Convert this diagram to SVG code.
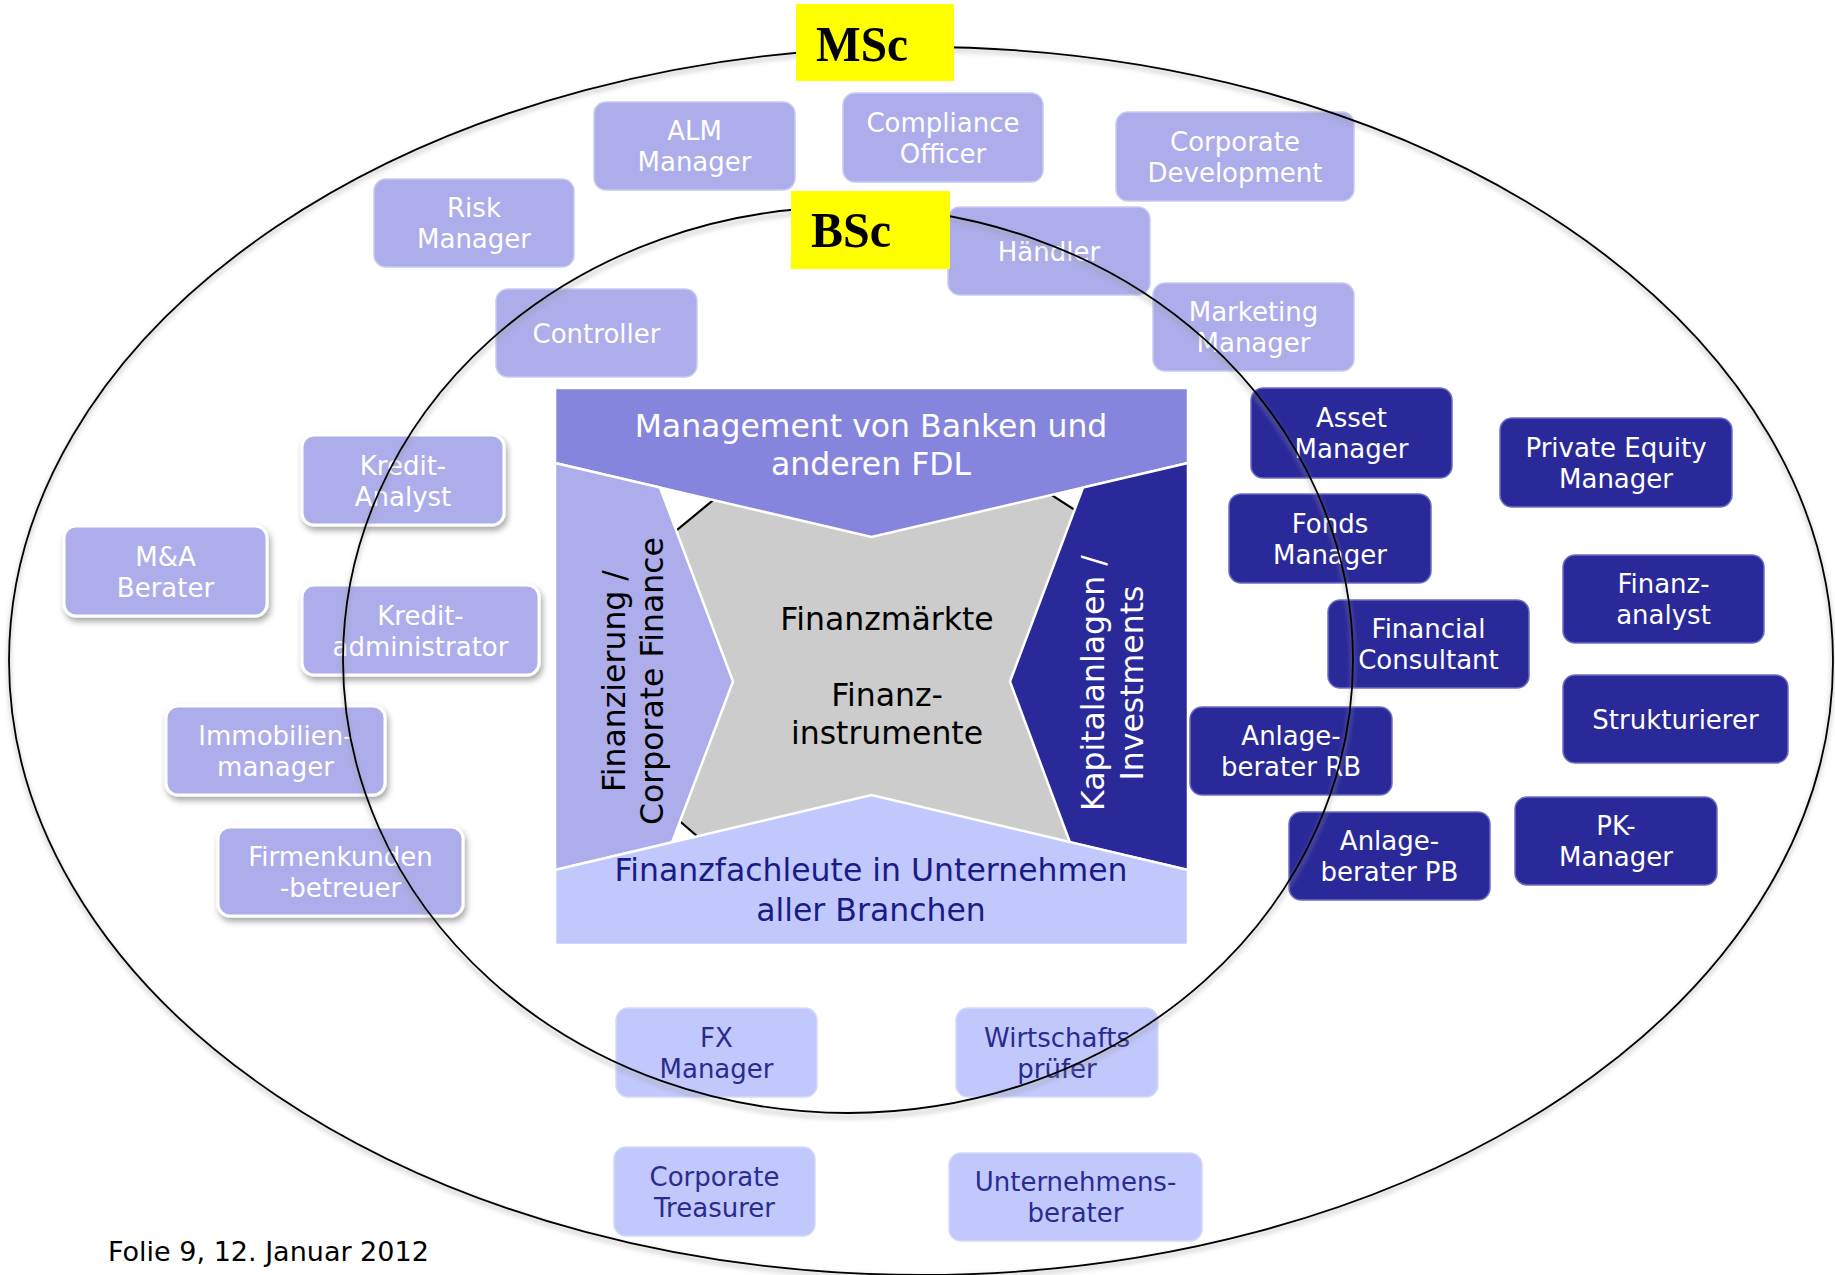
<svg xmlns="http://www.w3.org/2000/svg" width="1835" height="1275" viewBox="0 0 1835 1275">
<defs>
<filter id="sh" x="-20%" y="-20%" width="140%" height="150%">
<feDropShadow dx="2" dy="4" stdDeviation="3" flood-color="#000" flood-opacity="0.35"/>
</filter>
<filter id="blur" x="-5%" y="-5%" width="110%" height="110%">
<feGaussianBlur stdDeviation="2.5"/>
</filter>
<style>
.n rect{rx:12;ry:12}
.lt rect{fill:#ADADEB;stroke:#C9C9F2;stroke-width:1.5}
.lb rect{fill:#ADADEB;stroke:#FFFFFF;stroke-width:3;filter:url(#sh)}
.dk rect{fill:#29299A;stroke:#6E6EC4;stroke-width:1.5}
.bt rect{fill:#C1C8FB;stroke:#D4D9FC;stroke-width:1.5}
text{font-family:"DejaVu Sans",Verdana,sans-serif;font-size:26px;text-anchor:middle}
.lt text,.lb text,.dk text{fill:#FFFFFF}
.bt text{fill:#2B2B8F}
.pn{stroke:#FFFFFF;stroke-width:2.5;stroke-linejoin:miter}
text.big{font-size:31.5px}
.ring{fill:none;stroke:#000;stroke-width:1.8}
.ringsh{fill:none;stroke:#9a9a9a;stroke-width:3;opacity:0.55;filter:url(#blur)}
.tag{fill:#FFFF00}
text.tagt{font-family:"Liberation Serif","Times New Roman",serif;font-weight:bold;font-size:50px;fill:#000;text-anchor:start}
text.foot{font-size:27px;fill:#000;text-anchor:start}
</style>
</defs>
<rect x="0" y="0" width="1835" height="1275" fill="#FFFFFF"/>

<!-- central square -->
<g id="center">
<polygon points="740,478 1030,481 1095,523 1110,880 720,856 660,804 660,544" fill="#CCCCCC" stroke="#000" stroke-width="2.2"/>
<polygon class="pn" id="top-band" points="555,388 1188,388 1188,463 871.5,537 555,463" fill="#8585DD"/>
<polygon class="pn" id="left-band" points="555,463 660,487.5 733,681.5 672,842.5 555,870" fill="#ADADEB"/>
<polygon class="pn" id="right-band" points="1188,463 1083,487.5 1010,681.5 1070,842.5 1188,870" fill="#29299A"/>
<polygon class="pn" id="bottom-band" points="555,870 871.5,795 1188,870 1188,945 555,945" fill="#C1C8FB"/>
<text class="big" x="871" y="437" fill="#FFFFFF">Management von Banken und</text>
<text class="big" x="871" y="475" fill="#FFFFFF">anderen FDL</text>
<text class="big" x="625" y="681" fill="#000" transform="rotate(-90 625 681)">Finanzierung /</text>
<text class="big" x="663" y="681" fill="#000" transform="rotate(-90 663 681)">Corporate Finance</text>
<text class="big" x="1104" y="683" fill="#FFFFFF" transform="rotate(-90 1104 683)">Kapitalanlagen /</text>
<text class="big" x="1143" y="683" fill="#FFFFFF" transform="rotate(-90 1143 683)">Investments</text>
<text class="big" x="887" y="630" fill="#000">Finanzmärkte</text>
<text class="big" x="887" y="706" fill="#000">Finanz-</text>
<text class="big" x="887" y="744" fill="#000">instrumente</text>
<text class="big" x="871" y="881" fill="#1B1B87">Finanzfachleute in Unternehmen</text>
<text class="big" x="871" y="921" fill="#1B1B87">aller Branchen</text>
</g>

<!-- light nodes, top -->
<g id="alm" class="n lt"><rect x="594" y="102" width="201" height="88"/><text x="694.5" y="140">ALM</text><text x="694.5" y="171">Manager</text></g>
<g id="compliance" class="n lt"><rect x="843" y="93" width="200" height="89"/><text x="943" y="131.5">Compliance</text><text x="943" y="162.5">Officer</text></g>
<g id="corpdev" class="n lt"><rect x="1116" y="112" width="238" height="89"/><text x="1235" y="150.5">Corporate</text><text x="1235" y="181.5">Development</text></g>
<g id="risk" class="n lt"><rect x="374" y="179" width="200" height="88"/><text x="474" y="217">Risk</text><text x="474" y="248">Manager</text></g>
<g id="controller" class="n lt"><rect x="496" y="289" width="201" height="88"/><text x="596.5" y="342.5">Controller</text></g>
<g id="haendler" class="n lt"><rect x="948" y="207" width="202" height="88"/><text x="1049" y="260.5">Händler</text></g>
<g id="marketing" class="n lt"><rect x="1153" y="283" width="201" height="88"/><text x="1253.5" y="321">Marketing</text><text x="1253.5" y="352">Manager</text></g>

<!-- light nodes, left -->
<g id="kreditanalyst" class="n lb"><rect x="302" y="435" width="202" height="90"/><text x="403" y="474.5">Kredit-</text><text x="403" y="505.5">Analyst</text></g>
<g id="ma" class="n lb"><rect x="64" y="526" width="203" height="90"/><text x="165.5" y="565.5">M&amp;A</text><text x="165.5" y="596.5">Berater</text></g>
<g id="kreditadmin" class="n lb"><rect x="302" y="585" width="237" height="90"/><text x="420.5" y="624.5">Kredit-</text><text x="420.5" y="655.5">administrator</text></g>
<g id="immobilien" class="n lb"><rect x="166" y="706" width="219" height="89"/><text x="275.5" y="745">Immobilien-</text><text x="275.5" y="776">manager</text></g>
<g id="firmenkunden" class="n lb"><rect x="218" y="827" width="245" height="89"/><text x="340.5" y="866">Firmenkunden</text><text x="340.5" y="897">-betreuer</text></g>

<!-- dark nodes -->
<g id="asset" class="n dk"><rect x="1251" y="388" width="201" height="90"/><text x="1351.5" y="427">Asset</text><text x="1351.5" y="458">Manager</text></g>
<g id="privateequity" class="n dk"><rect x="1500" y="418" width="232" height="89"/><text x="1616" y="456.5">Private Equity</text><text x="1616" y="487.5">Manager</text></g>
<g id="fonds" class="n dk"><rect x="1229" y="494" width="202" height="89"/><text x="1330" y="532.5">Fonds</text><text x="1330" y="563.5">Manager</text></g>
<g id="finanzanalyst" class="n dk"><rect x="1563" y="555" width="201" height="88"/><text x="1663.5" y="593">Finanz-</text><text x="1663.5" y="624">analyst</text></g>
<g id="financialconsultant" class="n dk"><rect x="1328" y="600" width="201" height="88"/><text x="1428.5" y="638">Financial</text><text x="1428.5" y="669">Consultant</text></g>
<g id="strukturierer" class="n dk"><rect x="1563" y="675" width="225" height="88"/><text x="1675.5" y="728.5">Strukturierer</text></g>
<g id="anlagerb" class="n dk"><rect x="1190" y="707" width="202" height="88"/><text x="1291" y="745">Anlage-</text><text x="1291" y="776">berater RB</text></g>
<g id="pkmanager" class="n dk"><rect x="1515" y="797" width="202" height="88"/><text x="1616" y="835">PK-</text><text x="1616" y="866">Manager</text></g>
<g id="anlagepb" class="n dk"><rect x="1289" y="812" width="201" height="88"/><text x="1389.5" y="850">Anlage-</text><text x="1389.5" y="881">berater PB</text></g>

<!-- bottom nodes -->
<g id="fx" class="n bt"><rect x="616" y="1008" width="201" height="89"/><text x="716.5" y="1046.5">FX</text><text x="716.5" y="1077.5">Manager</text></g>
<g id="wp" class="n bt"><rect x="956" y="1008" width="202" height="89"/><text x="1057" y="1046.5">Wirtschafts</text><text x="1057" y="1077.5">prüfer</text></g>
<g id="treasurer" class="n bt"><rect x="614" y="1147" width="201" height="89"/><text x="714.5" y="1185.5">Corporate</text><text x="714.5" y="1216.5">Treasurer</text></g>
<g id="unternehmensberater" class="n bt"><rect x="949" y="1153" width="253" height="88"/><text x="1075.5" y="1191">Unternehmens-</text><text x="1075.5" y="1222">berater</text></g>

<!-- rings -->
<g id="rings">
<ellipse class="ringsh" cx="921" cy="664" rx="912" ry="614"/>
<ellipse class="ringsh" cx="848" cy="664" rx="505" ry="453"/>
<ellipse class="ring" cx="921" cy="661" rx="912" ry="614"/>
<ellipse class="ring" cx="848" cy="660" rx="505" ry="453"/>
</g>

<!-- level tags -->
<g id="msc"><rect class="tag" x="796" y="4" width="158" height="77"/><text class="tagt" x="816" y="61" textLength="92" lengthAdjust="spacingAndGlyphs">MSc</text></g>
<g id="bsc"><rect class="tag" x="791" y="191" width="159" height="78"/><text class="tagt" x="811" y="247" textLength="80" lengthAdjust="spacingAndGlyphs">BSc</text></g>

<text class="foot" x="108" y="1261">Folie 9, 12. Januar 2012</text>
</svg>
